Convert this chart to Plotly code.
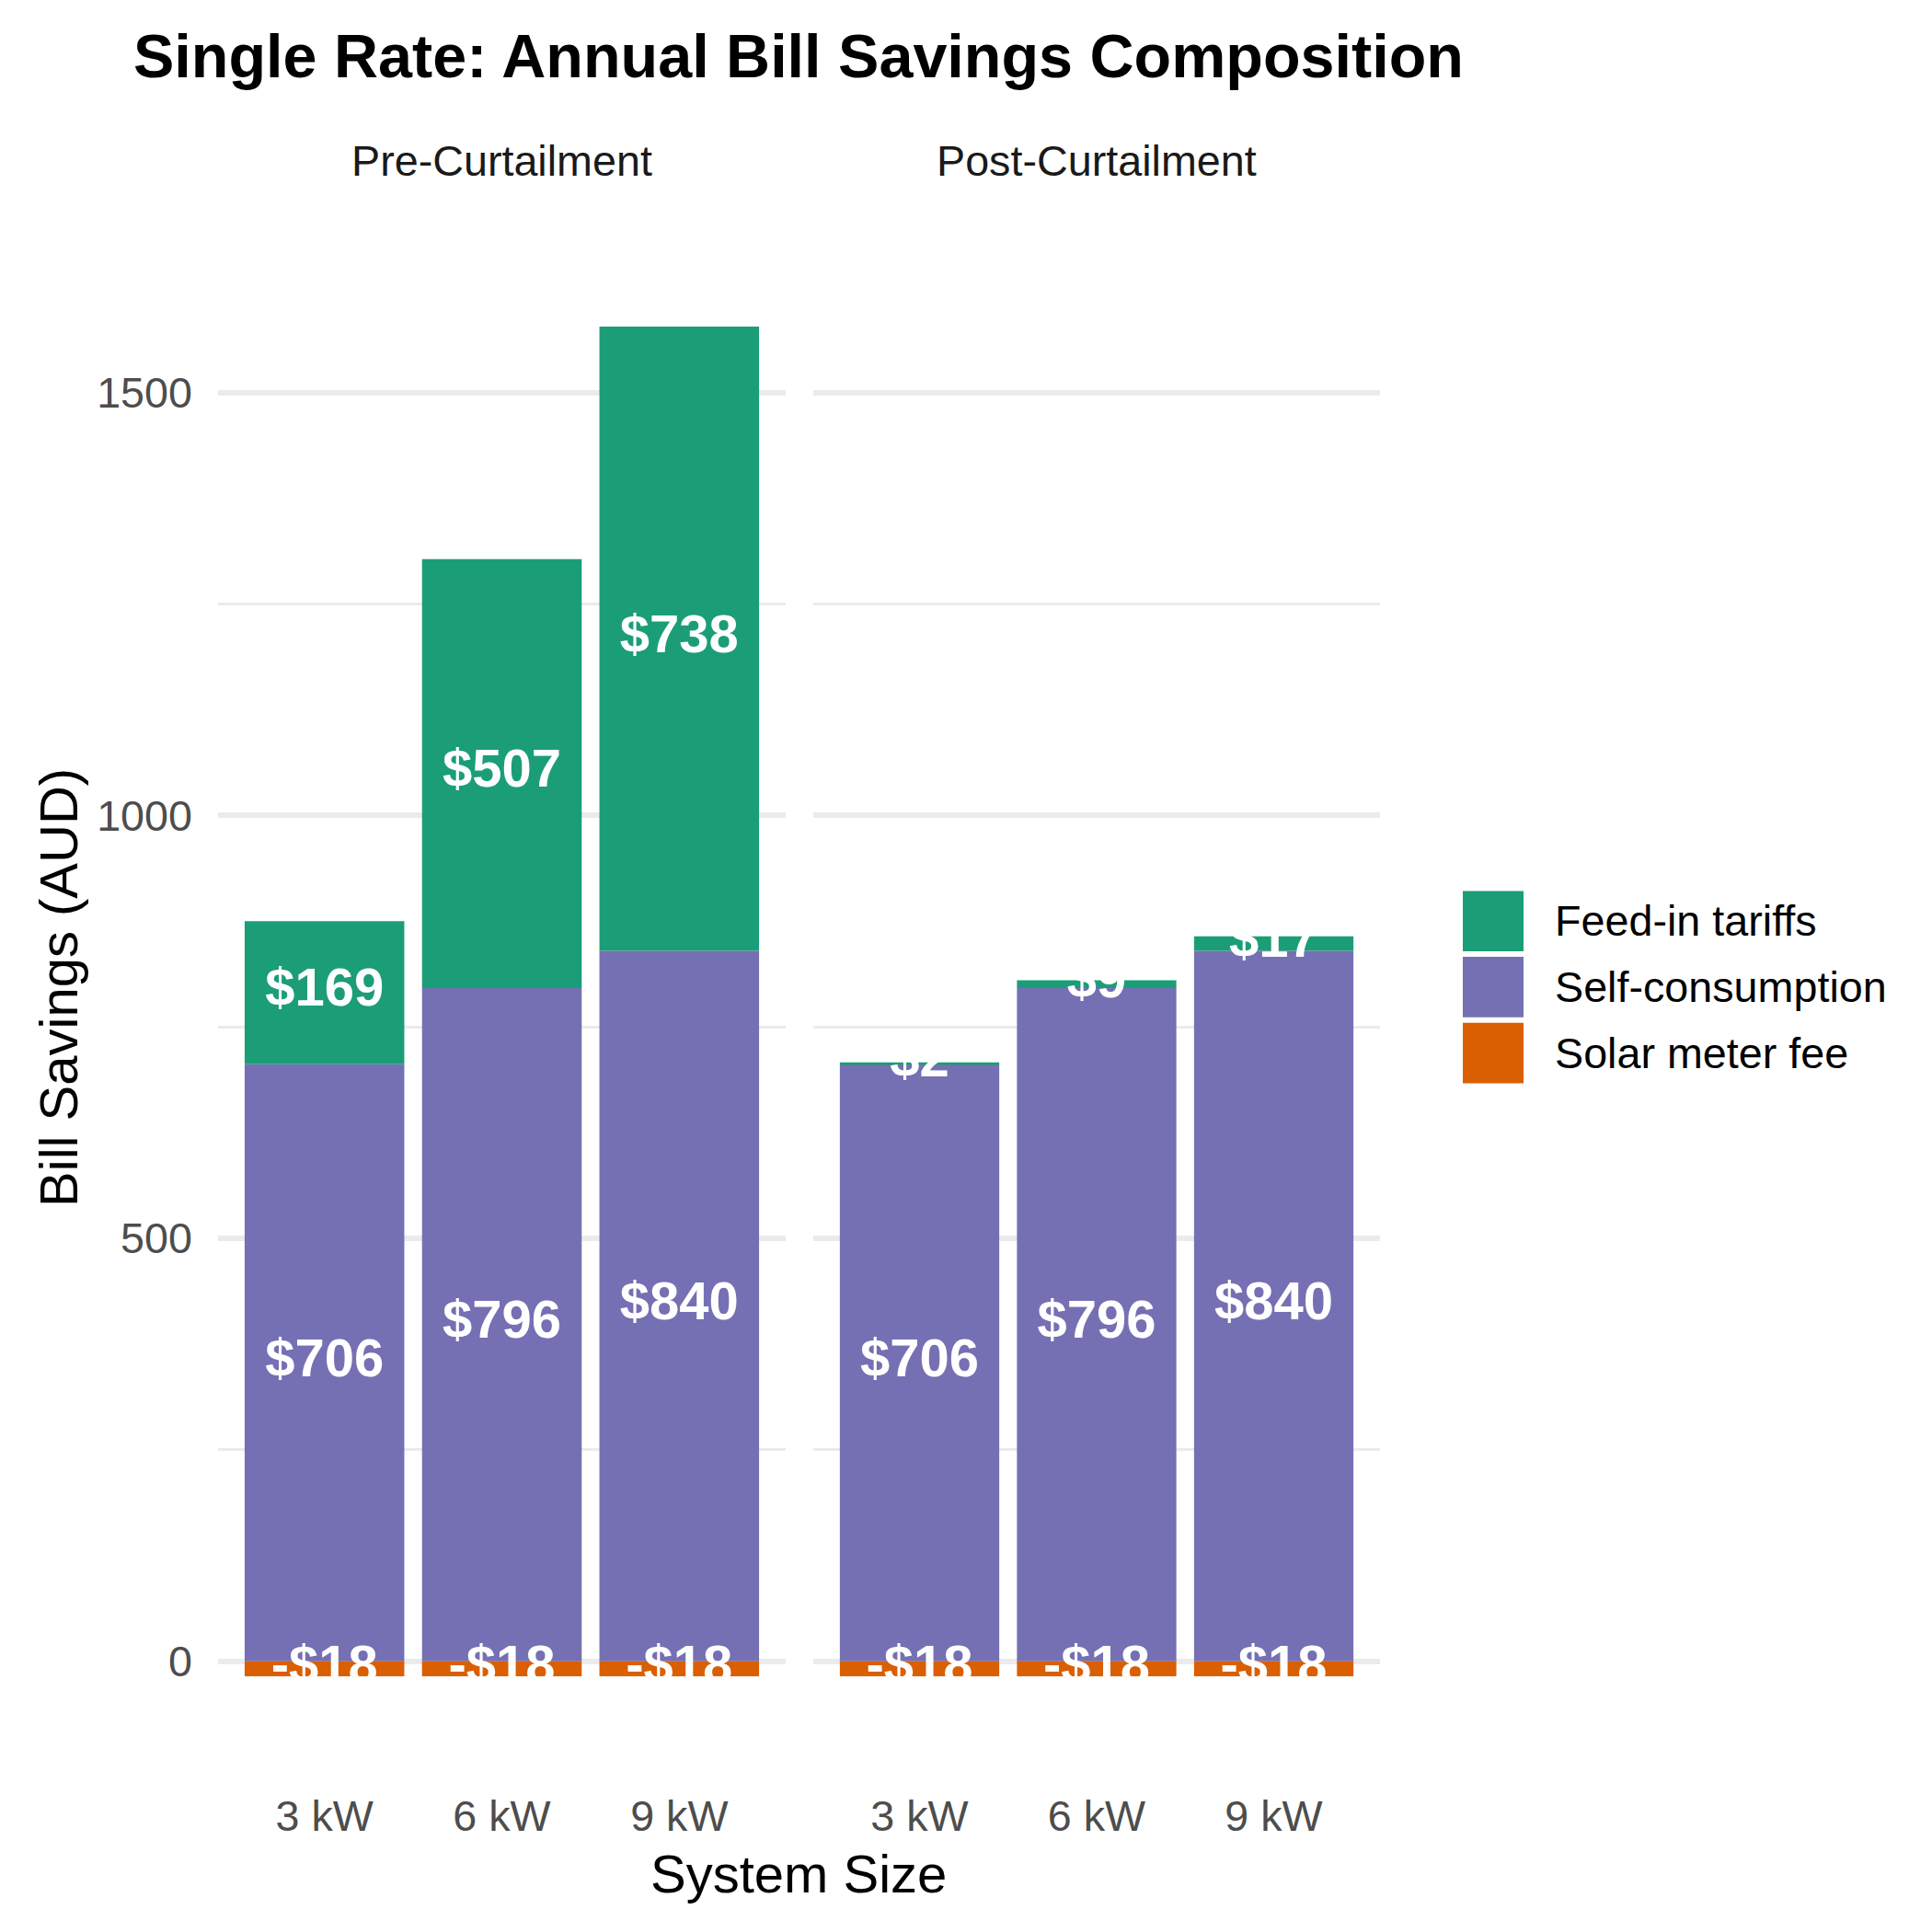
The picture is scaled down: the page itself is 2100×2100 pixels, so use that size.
import plotly.graph_objects as go

W = H = 2100
FONT = "Liberation Sans"

sizes = ["3 kW", "6 kW", "9 kW"]
panels = ["Pre-Curtailment", "Post-Curtailment"]
components = ["Feed-in tariffs", "Self-consumption", "Solar meter fee"]
colors = {"Feed-in tariffs": "#1B9E77", "Self-consumption": "#7570B3", "Solar meter fee": "#D95F02"}

self_pre = [706, 796, 840]
fit_pre = [169, 507, 738]
fee_pre = [-18, -18, -18]
self_post = [706, 796, 840]
fit_post = [2, 9, 17]
fee_post = [-18, -18, -18]

data = {
    "Pre-Curtailment": {"Self-consumption": self_pre, "Feed-in tariffs": fit_pre, "Solar meter fee": fee_pre},
    "Post-Curtailment": {"Self-consumption": self_post, "Feed-in tariffs": fit_post, "Solar meter fee": fee_post},
}


def money(v):
    return f"${v}" if v >= 0 else f"-${abs(v)}"


fig = go.Figure()

for i, panel in enumerate(panels):
    xa = "x" if i == 0 else "x2"
    ya = "y" if i == 0 else "y2"
    d = data[panel]
    # stacking order: self-consumption at the bottom, feed-in on top, fee below zero
    for comp in ["Self-consumption", "Feed-in tariffs", "Solar meter fee"]:
        fig.add_trace(go.Bar(x=sizes, y=d[comp], name=comp, marker_color=colors[comp],
                             marker_line_width=0, xaxis=xa, yaxis=ya, showlegend=False))
    # labels at segment midpoints
    mid_self = [v / 2 for v in d["Self-consumption"]]
    mid_fit = [s + f / 2 for s, f in zip(d["Self-consumption"], d["Feed-in tariffs"])]
    mid_fee = [v / 2 for v in d["Solar meter fee"]]
    xs = sizes * 3
    ys = mid_self + mid_fit + mid_fee
    txt = [money(v) for v in d["Self-consumption"] + d["Feed-in tariffs"] + d["Solar meter fee"]]
    fig.add_trace(go.Scatter(x=xs, y=ys, text=txt, mode="text", xaxis=xa, yaxis=ya,
                             textfont=dict(family=FONT, size=58, color="white", weight="bold"),
                             textposition="middle center", cliponaxis=True, showlegend=False,
                             hoverinfo="skip"))

px = lambda v: v / W
py = lambda v: 1 - v / H

xdom1 = [px(229), px(846)]
xdom2 = [px(876), px(1492)]
ydom = [py(1823), py(319)]
yrange = [-18, 1610]

xcommon = dict(type="category", range=[-0.6, 2.6], showgrid=False, zeroline=False, showline=False,
               ticks="", tickfont=dict(family=FONT, size=46.7, color="#4D4D4D"), ticklabelstandoff=120)
ycommon = dict(range=yrange, dtick=500, showgrid=True, gridcolor="#EBEBEB", gridwidth=5.5,
               zeroline=False, showline=False, ticks="",
               minor=dict(dtick=250, showgrid=True, gridcolor="#EBEBEB", gridwidth=2.8),
               tickfont=dict(family=FONT, size=46.7, color="#4D4D4D"))

fig.update_layout(
    width=W, height=H,
    margin=dict(l=0, r=0, t=0, b=0),
    paper_bgcolor="white", plot_bgcolor="white",
    barmode="relative", bargap=0.1,
    font=dict(family=FONT),
    xaxis=dict(domain=xdom1, anchor="y", **xcommon),
    xaxis2=dict(domain=xdom2, anchor="y2", **xcommon),
    yaxis=dict(domain=ydom, anchor="x", ticklabelstandoff=27, **ycommon),
    yaxis2=dict(domain=ydom, anchor="x2", matches="y", showticklabels=False, **ycommon),
    title=dict(text="Single Rate: Annual Bill Savings Composition", x=px(137), xanchor="left",
               y=py(53), yanchor="middle",
               font=dict(family=FONT, size=66.5, color="black", weight="bold")),
)

# facet strip labels
for i, panel in enumerate(panels):
    fig.add_annotation(text=panel, xref=("x" if i == 0 else "x2") + " domain", x=0.5,
                       yref="paper", y=py(168), xanchor="center", yanchor="middle", showarrow=False,
                       font=dict(family=FONT, size=46.7, color="#1A1A1A"))

# axis titles
fig.add_annotation(text="System Size", xref="paper", x=px(860), yref="paper", y=py(2038),
                   xanchor="center", yanchor="middle", showarrow=False,
                   font=dict(family=FONT, size=58, color="black"))
fig.add_annotation(text="Bill Savings (AUD)", xref="paper", x=px(56), yref="paper", y=py(1071),
                   xanchor="center", yanchor="middle", textangle=-90, showarrow=False,
                   font=dict(family=FONT, size=58, color="black"))

# legend drawn as keys + text
key = 66
gap = 6
top = 965
for j, comp in enumerate(components):
    y0 = top + j * (key + gap)
    fig.add_shape(type="rect", xref="paper", yref="paper", x0=px(1582), x1=px(1582 + key),
                  y0=py(y0 + key), y1=py(y0), fillcolor=colors[comp], line_width=0)
    fig.add_annotation(text=comp, xref="paper", x=px(1680), yref="paper", y=py(y0 + key / 2),
                       xanchor="left", yanchor="middle", showarrow=False,
                       font=dict(family=FONT, size=46.7, color="black"))

fig.write_html("out.html")
